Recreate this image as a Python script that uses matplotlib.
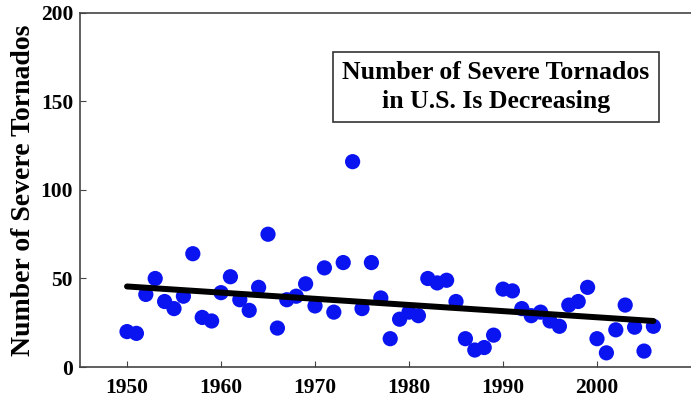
import numpy as np
import matplotlib
matplotlib.use("Agg")
import matplotlib.pyplot as plt

years = list(range(1950, 2007))
tornados = [20, 19, 41, 50, 37, 33, 40, 64, 28, 26,
            42, 51, 38, 32, 45, 75, 22, 38, 40, 47,
            34.5, 56, 31, 59, 116, 33, 59, 39, 16, 27,
            31, 29, 50, 47.5, 49, 37, 16, 9.6, 11, 18,
            44, 43, 33, 29, 31, 26, 23, 35, 37, 45,
            16, 8, 21, 35, 22.5, 9, 23]
trend_years = [1950, 2006]
trend_values = [45.5, 26]

plt.rcParams["font.family"] = "Liberation Serif"
plt.rcParams["font.weight"] = "bold"

fig = plt.figure(figsize=(6.91, 4.05), dpi=100)
ax = fig.add_axes([0.1158, 0.0938, 0.8842, 0.8742])

ax.scatter(years, tornados, s=120, color="#0a14f0", edgecolors="none", zorder=2)
ax.plot(trend_years, trend_values, color="black", linewidth=4.3, solid_capstyle="round", zorder=3)

ax.set_xlim(1945, 2010)
ax.set_ylim(0, 200)
ax.set_xticks([1950, 1960, 1970, 1980, 1990, 2000])
ax.set_yticks([0, 50, 100, 150, 200])
ax.tick_params(direction="in", labelsize=15.5, length=4, color="#444444")
ax.tick_params(axis="x", pad=8)
ax.tick_params(axis="y", pad=5)
for lab in ax.get_xticklabels() + ax.get_yticklabels():
    lab.set_fontweight("bold")
ax.set_ylabel("Number of Severe Tornados", fontsize=20, fontweight="bold", labelpad=3)

for side in ["left", "bottom", "top"]:
    ax.spines[side].set_color("#444444")
    ax.spines[side].set_linewidth(1.2)
ax.spines["right"].set_visible(False)

ax.text(0.681, 0.791, "Number of Severe Tornados\nin U.S. Is Decreasing",
        transform=ax.transAxes, ha="center", va="center", fontsize=18.5,
        fontweight="bold", linespacing=1.3,
        bbox=dict(boxstyle="square,pad=0.35", facecolor="white", edgecolor="#333333", linewidth=1.2))

fig.savefig("out.png", dpi=100)
